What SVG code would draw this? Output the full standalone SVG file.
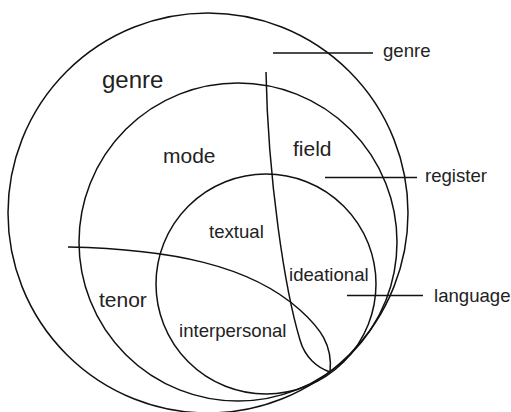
<svg xmlns="http://www.w3.org/2000/svg" width="511" height="412" viewBox="0 0 511 412">
<style>
.c{fill:none;stroke:#111;stroke-width:1.5}
.big{font-family:"Liberation Sans",Arial,sans-serif;font-size:24px;fill:#222}
.mid{font-family:"Liberation Sans",Arial,sans-serif;font-size:21px;fill:#222}
.sm{font-family:"Liberation Sans",Arial,sans-serif;font-size:18.6px;fill:#222}
</style>
<rect width="511" height="412" fill="#fff"/>
<g id="genre-circle">
<circle class="c" cx="208" cy="213" r="200"/>
<text class="big" x="102" y="88">genre</text>
</g>
<g id="register-circle">
<circle class="c" cx="238" cy="242" r="159"/>
<text class="mid" x="163" y="163">mode</text>
<text class="mid" x="293" y="156">field</text>
<text class="mid" x="99" y="307">tenor</text>
</g>
<g id="language-circle">
<circle class="c" cx="266" cy="284" r="110"/>
<text class="sm" x="209" y="238">textual</text>
<text class="sm" x="289" y="281">ideational</text>
<text class="sm" x="179" y="337">interpersonal</text>
</g>
<g id="dividers">
<path class="c" d="M266,72 C268,180 285,290 300,340 C305,358 318,368 330,372"/>
<path class="c" d="M68,247 C170,249 250,265 300,310 C320,328 333,345 330,372"/>
</g>
<g id="connectors">
<line class="c" x1="273" y1="53" x2="373" y2="53"/>
<line class="c" x1="325" y1="177.5" x2="417" y2="177.5"/>
<line class="c" x1="347" y1="295.5" x2="423" y2="295.5"/>
</g>
<g id="labels">
<text class="sm" x="383" y="57">genre</text>
<text class="sm" x="425" y="182">register</text>
<text class="sm" x="434" y="302">language</text>
</g>
</svg>
